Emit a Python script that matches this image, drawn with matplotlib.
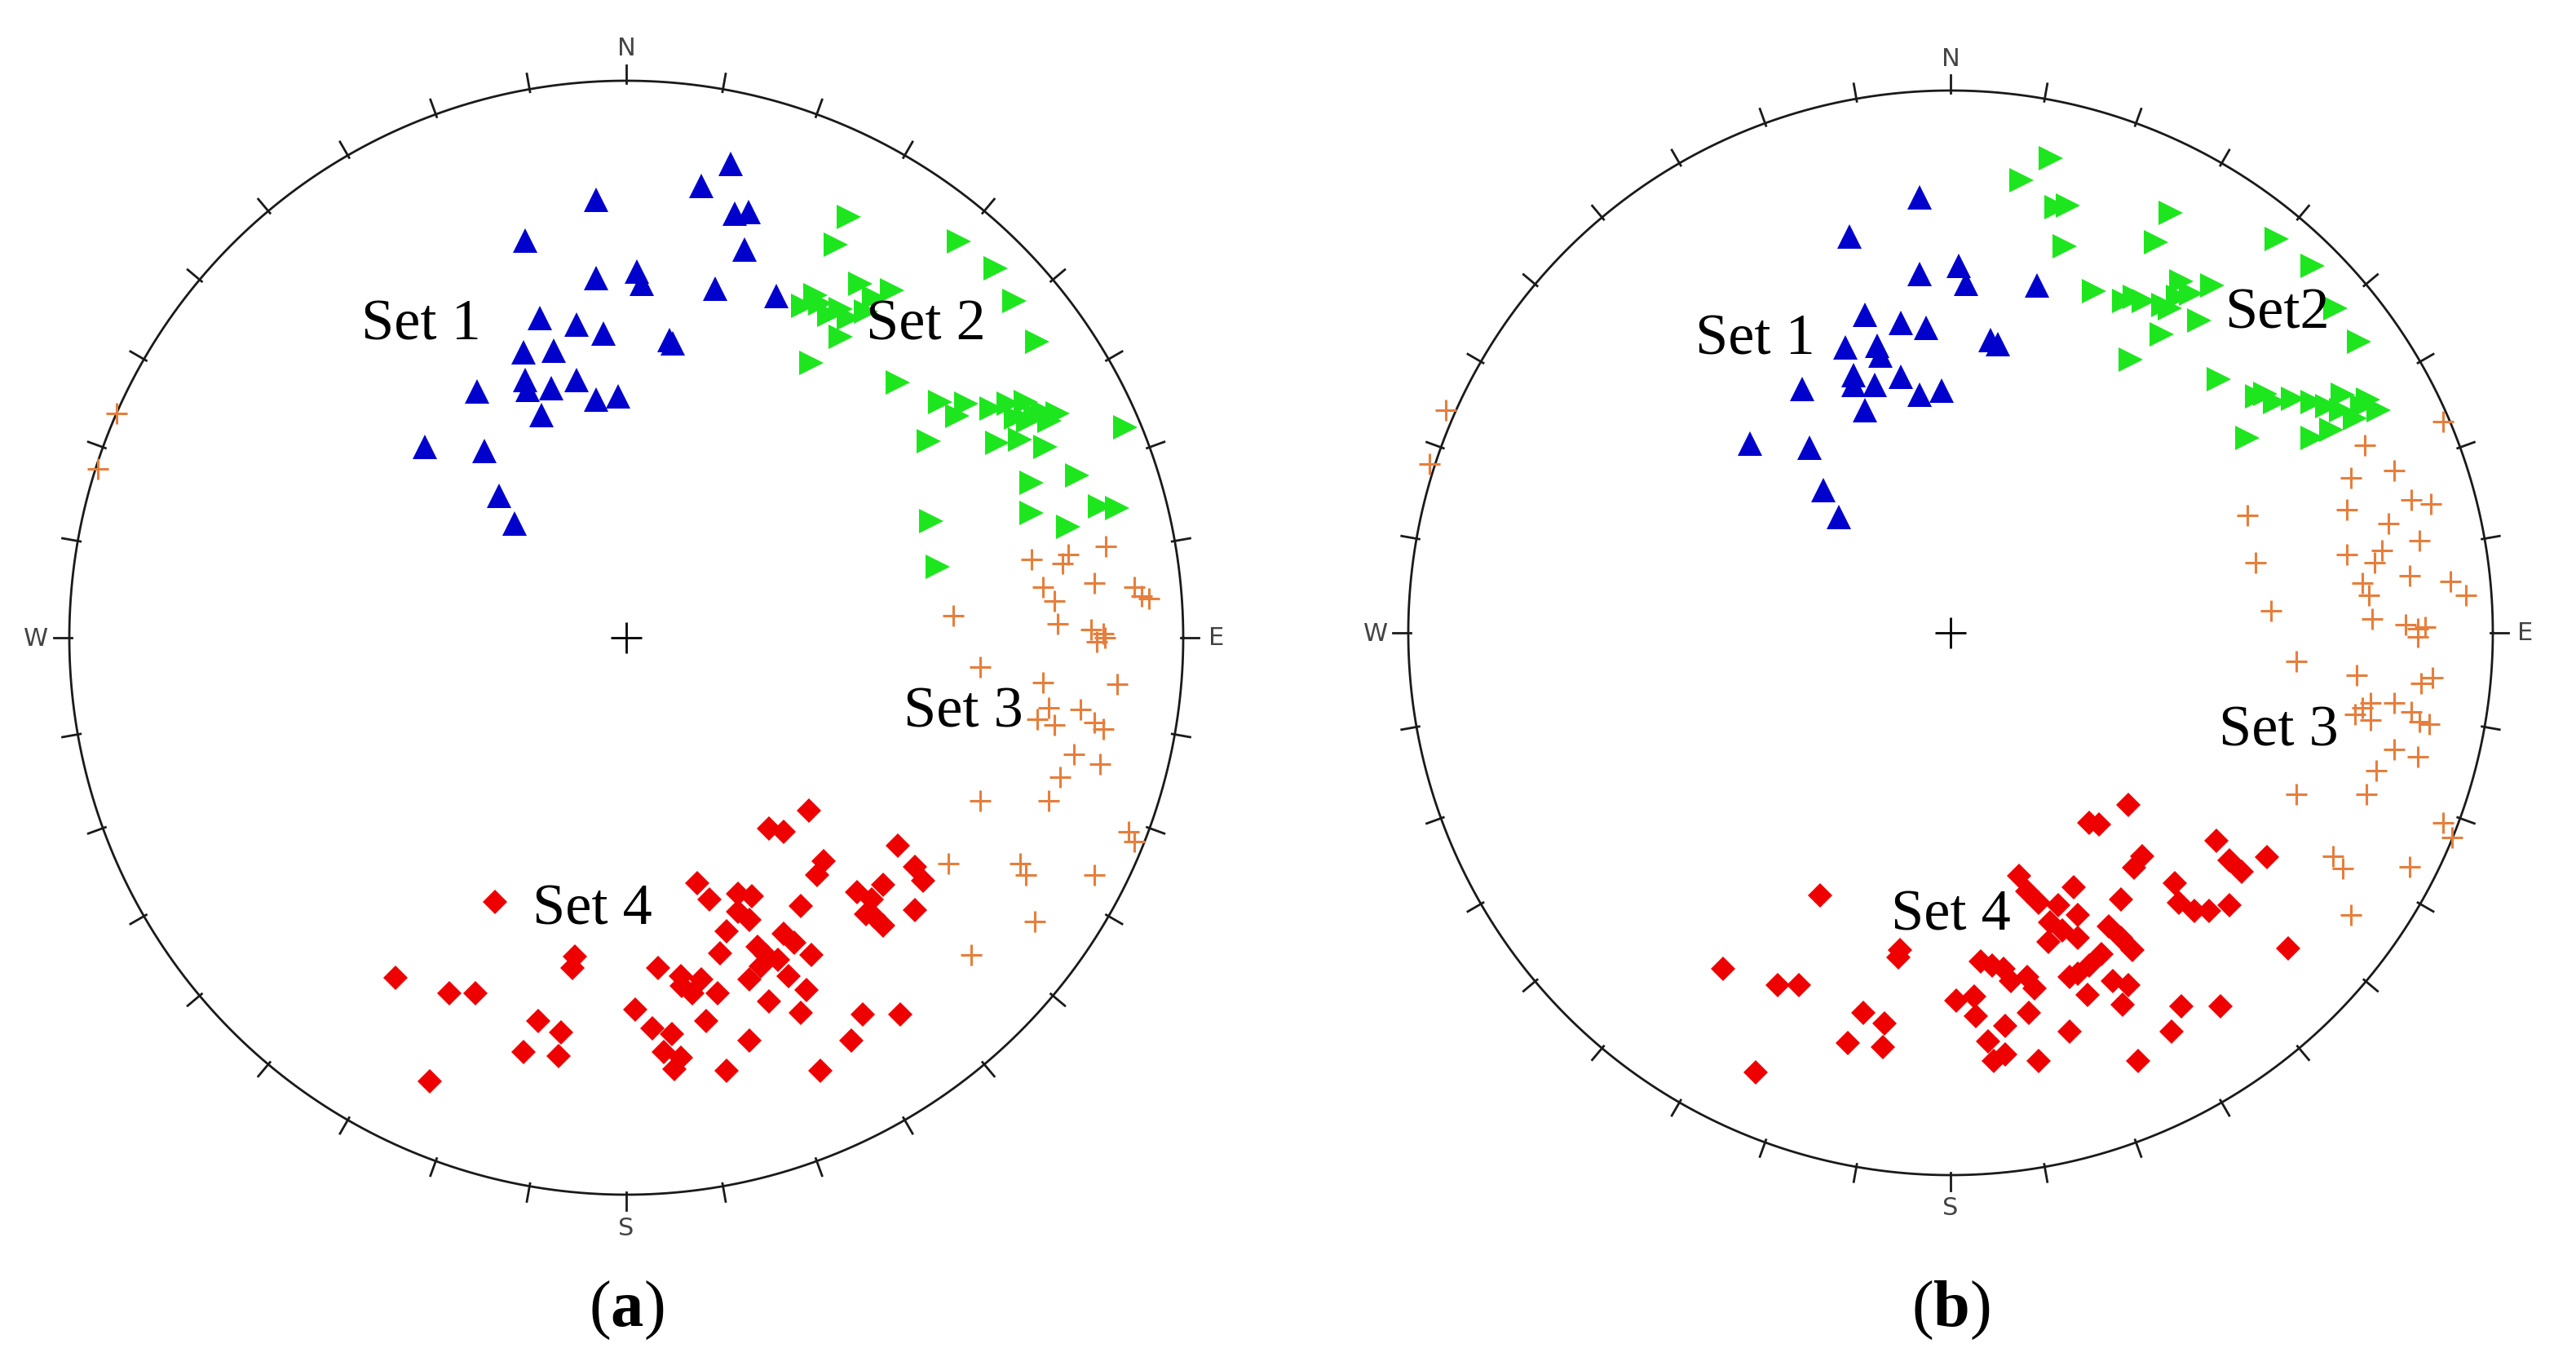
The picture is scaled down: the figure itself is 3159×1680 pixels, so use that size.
import numpy as np
import matplotlib
matplotlib.use("Agg")
import matplotlib.pyplot as plt

plt.rcParams['mathtext.fontset'] = 'custom'
plt.rcParams['mathtext.rm'] = 'Liberation Serif'
plt.rcParams['mathtext.bf'] = 'Liberation Serif:bold'

# pole positions (x = east, y = north, unit circle)
set1_a = [(0.187, 0.850), (0.134, 0.811), (-0.054, 0.786), (0.195, 0.761), (0.220, 0.764),
          (-0.181, 0.713), (0.212, 0.697), (-0.054, 0.646), (0.019, 0.657), (0.028, 0.635),
          (0.159, 0.627), (0.269, 0.613), (-0.155, 0.574), (-0.089, 0.562), (-0.041, 0.546),
          (0.077, 0.534), (0.083, 0.529), (-0.184, 0.512), (-0.130, 0.515), (-0.268, 0.442),
          (-0.182, 0.462), (-0.177, 0.445), (-0.134, 0.448), (-0.089, 0.462), (-0.054, 0.428),
          (-0.015, 0.434), (-0.153, 0.400), (-0.361, 0.342), (-0.255, 0.336), (-0.228, 0.255),
          (-0.200, 0.205)]
set2_a = [(0.400, 0.755), (0.377, 0.705), (0.597, 0.711), (0.663, 0.663), (0.318, 0.596),
          (0.349, 0.601), (0.385, 0.590), (0.420, 0.635), (0.477, 0.624), (0.431, 0.585),
          (0.400, 0.574), (0.385, 0.540), (0.340, 0.615), (0.365, 0.580), (0.445, 0.610),
          (0.333, 0.493), (0.487, 0.459), (0.697, 0.604), (0.738, 0.532), (0.564, 0.423),
          (0.610, 0.420), (0.656, 0.411), (0.687, 0.420), (0.717, 0.423), (0.748, 0.406),
          (0.774, 0.403), (0.722, 0.389), (0.735, 0.400), (0.760, 0.390), (0.700, 0.395),
          (0.595, 0.398), (0.896, 0.378), (0.543, 0.353), (0.666, 0.350), (0.707, 0.356),
          (0.753, 0.342), (0.728, 0.278), (0.809, 0.291), (0.728, 0.224), (0.794, 0.199),
          (0.850, 0.236), (0.881, 0.233), (0.548, 0.210), (0.559, 0.127)]
set3_a = [(0.861, 0.164), (0.794, 0.150), (0.784, 0.133), (0.728, 0.140), (0.748, 0.091),
          (0.840, 0.098), (0.768, 0.066), (0.912, 0.091), (0.925, 0.075), (0.938, 0.070),
          (0.587, 0.039), (0.774, 0.025), (0.835, 0.014), (0.856, 0.007), (0.845, -0.007),
          (0.860, 0.000), (0.635, -0.052), (0.748, -0.080), (0.881, -0.084), (0.758, -0.126),
          (0.815, -0.129), (0.738, -0.147), (0.768, -0.157), (0.840, -0.153), (0.856, -0.164),
          (0.804, -0.209), (0.850, -0.227), (0.779, -0.251), (0.635, -0.293), (0.758, -0.293),
          (0.902, -0.349), (0.912, -0.366), (0.579, -0.405), (0.707, -0.405), (0.717, -0.426),
          (0.840, -0.426), (0.733, -0.510), (0.620, -0.569), (-0.915, 0.403), (-0.949, 0.303)]
set4_a = [(0.328, -0.311), (0.256, -0.342), (0.282, -0.349), (0.487, -0.373), (0.354, -0.401),
          (0.343, -0.426), (0.518, -0.412), (0.533, -0.436), (0.128, -0.440), (0.415, -0.457),
          (0.461, -0.443), (0.226, -0.464), (0.200, -0.492), (0.313, -0.482), (0.518, -0.489),
          (0.431, -0.496), (0.461, -0.517), (0.180, -0.527), (0.221, -0.506), (0.236, -0.555),
          (0.282, -0.531), (0.302, -0.548), (0.333, -0.569), (0.169, -0.566), (0.057, -0.593),
          (0.098, -0.607), (0.134, -0.614), (0.118, -0.639), (0.164, -0.639), (0.241, -0.590),
          (0.221, -0.614), (0.272, -0.579), (0.292, -0.607), (0.323, -0.632), (0.256, -0.653),
          (0.313, -0.674), (-0.092, -0.572), (-0.097, -0.593), (-0.235, -0.475), (-0.414, -0.611),
          (-0.317, -0.639), (-0.271, -0.639), (0.016, -0.667), (0.047, -0.702), (0.082, -0.712),
          (0.144, -0.688), (0.425, -0.677), (0.492, -0.677), (-0.158, -0.688), (-0.117, -0.709),
          (-0.184, -0.744), (-0.122, -0.751), (0.067, -0.744), (0.098, -0.754), (0.087, -0.775),
          (0.221, -0.723), (0.404, -0.723), (0.180, -0.778), (0.349, -0.778), (-0.353, -0.796),
          (0.250, -0.570), (0.100, -0.625), (0.150, -0.470), (0.200, -0.460), (0.445, -0.500),
          (0.440, -0.470)]

set1_b = [(-0.057, 0.803), (-0.186, 0.731), (-0.057, 0.662), (0.015, 0.677), (0.029, 0.644),
          (0.159, 0.641), (-0.158, 0.587), (-0.091, 0.572), (-0.045, 0.562), (0.073, 0.540),
          (0.087, 0.533), (-0.194, 0.526), (-0.136, 0.529), (-0.129, 0.511), (-0.273, 0.450),
          (-0.179, 0.475), (-0.179, 0.457), (-0.140, 0.457), (-0.091, 0.472), (-0.057, 0.439),
          (-0.017, 0.447), (-0.158, 0.411), (-0.370, 0.349), (-0.260, 0.342), (-0.235, 0.263),
          (-0.206, 0.213)]
set2_b = [(0.185, 0.875), (0.131, 0.835), (0.195, 0.785), (0.217, 0.788), (0.210, 0.713),
          (0.406, 0.774), (0.379, 0.720), (0.264, 0.630), (0.321, 0.612), (0.357, 0.612),
          (0.393, 0.605), (0.426, 0.648), (0.444, 0.626), (0.483, 0.641), (0.404, 0.598),
          (0.390, 0.551), (0.458, 0.576), (0.332, 0.504), (0.602, 0.727), (0.667, 0.677),
          (0.710, 0.598), (0.753, 0.537), (0.494, 0.468), (0.566, 0.436), (0.598, 0.425),
          (0.631, 0.432), (0.667, 0.425), (0.695, 0.418), (0.724, 0.439), (0.760, 0.418),
          (0.789, 0.411), (0.746, 0.396), (0.548, 0.360), (0.667, 0.360), (0.703, 0.375),
          (0.340, 0.620), (0.420, 0.620), (0.770, 0.430), (0.720, 0.410), (0.580, 0.440)]
set3_b = [(0.908, 0.389), (0.764, 0.346), (0.818, 0.299), (0.738, 0.285), (0.850, 0.245),
          (0.886, 0.238), (0.548, 0.216), (0.731, 0.227), (0.807, 0.202), (0.864, 0.170),
          (0.731, 0.145), (0.796, 0.152), (0.782, 0.130), (0.562, 0.130), (0.846, 0.105),
          (0.760, 0.091), (0.771, 0.069), (0.922, 0.094), (0.951, 0.069), (0.591, 0.040),
          (0.778, 0.026), (0.839, 0.015), (0.861, 0.008), (0.875, 0.011), (0.861, -0.007),
          (0.638, -0.053), (0.749, -0.078), (0.889, -0.082), (0.868, -0.093), (0.774, -0.129),
          (0.818, -0.129), (0.760, -0.139), (0.746, -0.150), (0.774, -0.161), (0.850, -0.146),
          (0.864, -0.164), (0.882, -0.168), (0.818, -0.215), (0.861, -0.229), (0.785, -0.254),
          (0.767, -0.297), (0.638, -0.297), (0.908, -0.351), (0.925, -0.377), (0.706, -0.412),
          (0.724, -0.434), (0.846, -0.431), (0.738, -0.520), (-0.931, 0.411), (-0.961, 0.311)]
set4_b = [(0.328, -0.318), (0.256, -0.351), (0.274, -0.354), (0.353, -0.412), (0.339, -0.433),
          (0.126, -0.448), (0.141, -0.477), (0.162, -0.498), (0.227, -0.469), (0.198, -0.502),
          (0.234, -0.520), (0.314, -0.491), (0.184, -0.534), (0.206, -0.549), (0.234, -0.563),
          (0.180, -0.570), (0.414, -0.462), (0.421, -0.498), (0.450, -0.513), (0.292, -0.541),
          (0.314, -0.563), (0.335, -0.585), (0.278, -0.592), (0.256, -0.613), (0.234, -0.628),
          (0.220, -0.635), (0.055, -0.606), (0.076, -0.613), (0.098, -0.620), (0.112, -0.642),
          (0.141, -0.635), (0.155, -0.656), (0.252, -0.667), (0.299, -0.642), (0.328, -0.649),
          (0.317, -0.685), (0.011, -0.678), (0.044, -0.671), (0.047, -0.707), (0.145, -0.700),
          (0.101, -0.725), (0.069, -0.753), (0.101, -0.778), (0.080, -0.789), (0.220, -0.735),
          (0.162, -0.789), (0.346, -0.789), (0.425, -0.689), (0.407, -0.735), (-0.240, -0.484),
          (-0.093, -0.585), (-0.096, -0.599), (-0.420, -0.620), (-0.319, -0.649), (-0.280, -0.649),
          (-0.161, -0.700), (-0.122, -0.721), (-0.190, -0.757), (-0.125, -0.764), (-0.359, -0.811),
          (0.490, -0.384), (0.515, -0.420), (0.537, -0.441), (0.584, -0.413), (0.476, -0.513),
          (0.515, -0.502), (0.623, -0.582), (0.497, -0.689)]

labels_a = ["Set 1", "Set 2", "Set 3", "Set 4"]
labels_b = ["Set 1", "Set2", "Set 3", "Set 4"]
label_pos_a = [(-0.368, 0.562), (0.538, 0.562), (0.605, -0.133), (-0.061, -0.487)]
label_pos_b = [(-0.361, 0.541), (0.602, 0.589), (0.605, -0.180), (0.000, -0.521)]
compass = {"N": 0, "E": 90, "S": 180, "W": 270}

W, H = 3159, 1681
fig = plt.figure(figsize=(W / 200, H / 200), dpi=200)
fig.patch.set_facecolor('white')

blue = '#0000CD'
green = '#1EE61E'
orange = '#E67E3C'
red = '#EE0000'
L = 1.12


def stereonet(cx, cy, r, s1, s2, s3, s4, labels, lpos, caption):
    ax = fig.add_axes([(cx - L * r) / W, (H - cy - L * r) / H, 2 * L * r / W, 2 * L * r / H])
    ax.set_xlim(-L, L)
    ax.set_ylim(-L, L)
    ax.set_aspect('equal')
    ax.axis('off')

    t = np.linspace(0, 2 * np.pi, 400)
    ax.plot(np.cos(t), np.sin(t), color='#1a1a1a', lw=1.0)
    for az in range(0, 360, 10):
        a = np.radians(az)
        ax.plot([0.995 * np.sin(a), 1.028 * np.sin(a)], [0.995 * np.cos(a), 1.028 * np.cos(a)],
                color='#1a1a1a', lw=1.0)
    for k, az in compass.items():
        a = np.radians(az)
        ax.text(1.06 * np.sin(a), 1.06 * np.cos(a), k, ha='center', va='center',
                fontsize=11, color='#444444', family='DejaVu Sans')
    ax.plot(0, 0, '+', color='black', ms=14, mew=1.0)

    x, y = zip(*s3)
    ax.plot(x, y, '+', color=orange, ms=9.5, mew=1.1, ls='none', clip_on=False)
    x, y = zip(*s1)
    ax.plot(x, y, '^', color=blue, ms=10.8, mew=0, ls='none')
    x, y = zip(*s2)
    ax.plot(x, y, '>', color=green, ms=11, mew=0, ls='none')
    x, y = zip(*s4)
    ax.plot(x, y, 'D', color=red, ms=7.8, mew=0, ls='none')

    for lab, (lx, ly) in zip(labels, lpos):
        ax.text(lx, ly, lab, ha='center', va='center', fontsize=26,
                family='Liberation Serif', color='black', zorder=5)

    fig.text(cx / W, 1 - 1607 / H, caption, ha='center', va='center',
             fontsize=29, family='Liberation Serif')


stereonet(768, 783, 683, set1_a, set2_a, set3_a, set4_a, labels_a, label_pos_a, r'($\mathbf{a}$)')
stereonet(2392, 777, 665, set1_b, set2_b, set3_b, set4_b, labels_b, label_pos_b, r'($\mathbf{b}$)')

fig.savefig('out.png', dpi=200, facecolor='white')
